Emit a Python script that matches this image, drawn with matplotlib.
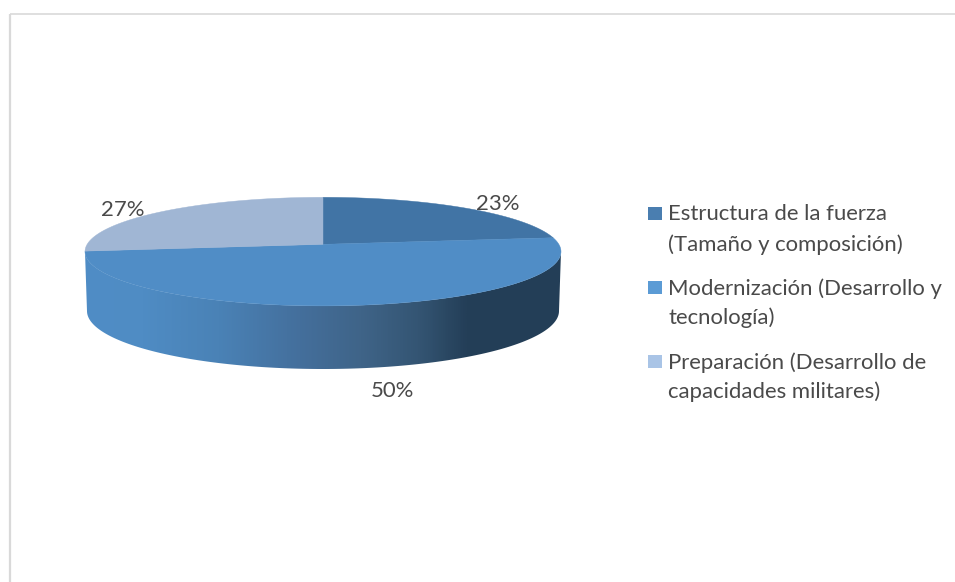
import numpy as np
import matplotlib
matplotlib.use('Agg')
import matplotlib.pyplot as plt
from matplotlib.colors import LinearSegmentedColormap
from matplotlib.patches import Polygon, Rectangle

plt.rcParams['font.family'] = ['Lato', 'DejaVu Sans']

##################################################################
labels = ['Estructura de la fuerza\n(Tamaño y composición)',
          'Modernización (Desarrollo y\ntecnología)',
          'Preparación (Desarrollo de\ncapacidades militares)']
values = [23, 50, 27]
##################################################################
top_colors = ['#4174a5', '#508dc6', '#a0b6d4']
legend_colors = ['#4a7eb0', '#5b9bd5', '#a9c4e6']
text_color = '#4a4a4a'
frame_color = '#d9d9d9'

# ellipse of the top face, side wall below it, all in pixels
cx, cy, a, b = 323., 251.6, 238., 54.3
k = 0.134  # perspective shift of the pie centre
cx2, cy2, a2, b2 = 323., 311., 236., 58.

label_pos = [(498, 204), (392, 391), (123, 210)]
legend_y = [(214.5, 244.5), (288.5, 317.5), (362.5, 391.5)]

##################################################################
fig = plt.figure(figsize=[9.55, 5.82], dpi=100)
ax = fig.add_axes([0, 0, 1, 1])
ax.axis('off')

ax.plot([10, 10], [582, 13.5], color=frame_color, lw=1.6, solid_capstyle='butt')
ax.plot([10, 955], [13.5, 13.5], color=frame_color, lw=1.2, solid_capstyle='butt')


def project(theta):
    # clockwise from 12 o'clock on the disc -> pixels on the tilted ellipse
    u, v = np.sin(theta), np.cos(theta)
    d = 1 + k * v
    return cx + a * u * np.sqrt(1 - k**2) / d, cy - b * (v + k) / d


##################################################################
# side wall: horizontal gradient clipped to the band under the top face
t = np.linspace(np.pi, 2 * np.pi, 200)
upper = np.column_stack([cx + a * np.cos(t), cy - b * np.sin(t)])
lower = np.column_stack([cx2 + a2 * np.cos(t), cy2 - b2 * np.sin(t)])[::-1]
wall = Polygon(np.vstack([upper, lower]), closed=True, fc='none', ec='none', transform=ax.transData)
ax.add_patch(wall)

side_cmap = LinearSegmentedColormap.from_list('side', [
    (0.00, '#508dc6'), (0.12, '#4f8cc4'), (0.28, '#4a82b6'), (0.45, '#446f9c'),
    (0.58, '#3f6488'), (0.70, '#345573'), (0.80, '#243f58'), (1.00, '#233e57')])
im = ax.imshow(np.linspace(0, 1, 480)[None, :], cmap=side_cmap, aspect='auto',
               extent=[84, 562, 375, 245], zorder=1)
im.set_clip_path(wall)
ax.set_xlim(0, 955)
ax.set_ylim(582, 0)

##################################################################
edges = np.cumsum([0] + values) / sum(values) * 2 * np.pi
apex_xy = (cx, cy - b * k)
for i, val in enumerate(values):
    th = np.linspace(edges[i], edges[i + 1], 200)
    x, y = project(th)
    pts = np.vstack([[apex_xy], np.column_stack([x, y])])
    ax.add_patch(Polygon(pts, closed=True, fc=top_colors[i], ec=top_colors[i], lw=0.3, zorder=2))
    ax.text(label_pos[i][0], label_pos[i][1], '%d%%' % val, fontsize=15.9, color=text_color,
            ha='center', va='center', zorder=3)

##################################################################
for i, lab in enumerate(labels):
    ys = legend_y[i]
    ax.add_patch(Rectangle((648, ys[0] - 8), 14, 13, fc=legend_colors[i], ec='none'))
    for line, yy in zip(lab.split('\n'), ys):
        ax.text(668, yy, line, fontsize=15.9, color=text_color, ha='left', va='center')

fig.savefig('out.png', dpi=100, facecolor='white')
